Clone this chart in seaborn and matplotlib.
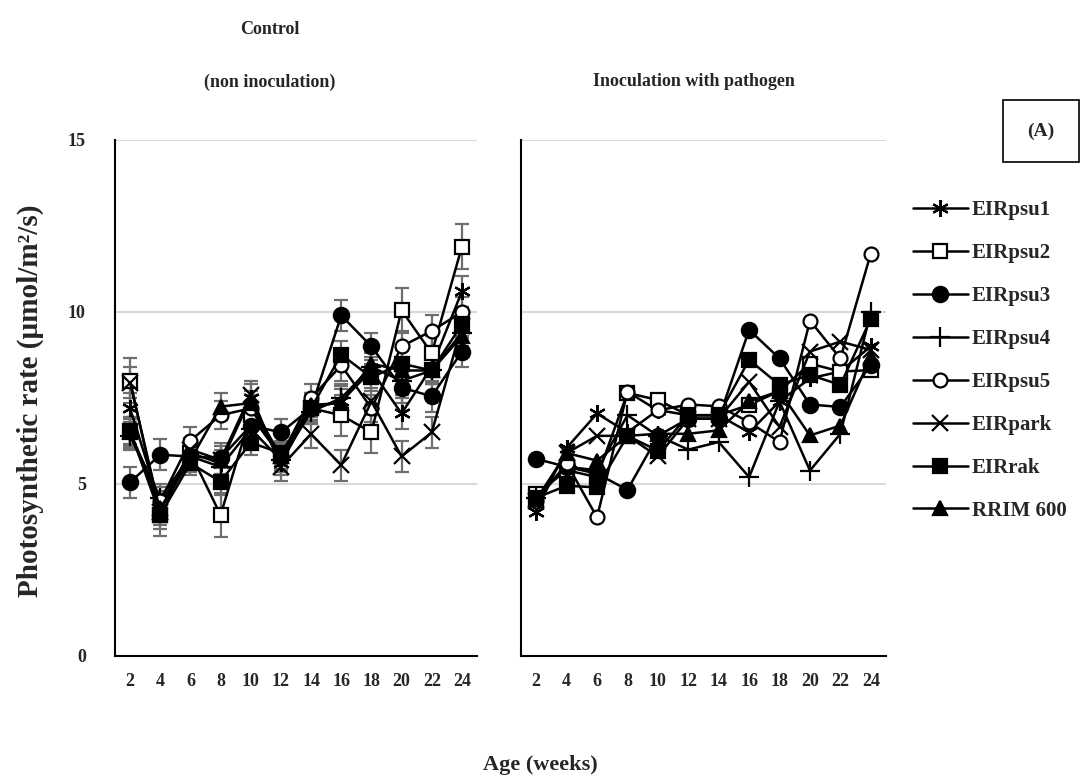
import numpy as np
import pandas as pd
import matplotlib
matplotlib.use("Agg")
import matplotlib.pyplot as plt
from matplotlib.patches import Rectangle
import seaborn as sns

sns.set_theme(style="white")
plt.rcParams['font.family'] = ['Liberation Serif', 'DejaVu Serif']
plt.rcParams['font.weight'] = 'bold'

weeks = ["2", "4", "6", "8", "10", "12", "14", "16", "18", "20", "22", "24"]
series = ["EIRpsu1", "EIRpsu2", "EIRpsu3", "EIRpsu4", "EIRpsu5", "EIRpark", "EIRrak", "RRIM 600"]

# Control (non inoculation)
ctrl_psu1 = [7.2, 4.4, 5.9, 5.6, 7.5, 5.6, 7.2, 7.4, 8.3, 7.05, 8.4, 10.6]
ctrl_psu2 = [8.0, 4.1, 5.9, 4.1, 7.0, 5.8, 7.2, 7.0, 6.5, 10.05, 8.8, 11.9]
ctrl_psu3 = [5.05, 5.85, 5.8, 5.75, 6.7, 6.5, 7.2, 9.9, 9.0, 7.8, 7.55, 8.85]
ctrl_psu4 = [6.4, 4.6, 5.8, 5.5, 6.6, 5.7, 7.1, 7.5, 8.4, 8.0, 8.3, 9.4]
ctrl_psu5 = [6.5, 4.5, 6.26, 7.0, 7.2, 5.8, 7.5, 8.45, 7.2, 9.0, 9.45, 10.0]
ctrl_park = [7.95, 4.2, 6.0, 5.7, 7.6, 5.5, 6.45, 5.55, 7.4, 5.8, 6.5, 9.6]
ctrl_rak = [6.55, 4.1, 5.6, 5.07, 6.2, 5.9, 7.2, 8.76, 8.1, 8.5, 8.3, 9.64]
ctrl_rrim = [6.5, 4.3, 5.7, 7.25, 7.35, 5.8, 7.3, 7.35, 8.5, 8.3, 8.3, 9.3]

# Standard errors (control)
err_psu1 = [0.45, 0.4, 0.35, 0.4, 0.4, 0.35, 0.4, 0.45, 0.4, 0.45, 0.45, 0.45]
err_psu2 = [0.65, 0.6, 0.4, 0.65, 0.4, 0.4, 0.45, 0.6, 0.6, 0.65, 0.5, 0.65]
err_psu3 = [0.45, 0.45, 0.4, 0.45, 0.4, 0.4, 0.4, 0.45, 0.4, 0.45, 0.45, 0.45]
err_psu4 = [0.4, 0.4, 0.35, 0.4, 0.35, 0.35, 0.35, 0.4, 0.4, 0.4, 0.4, 0.4]
err_psu5 = [0.45, 0.4, 0.4, 0.4, 0.4, 0.4, 0.4, 0.45, 0.4, 0.45, 0.45, 0.45]
err_park = [0.45, 0.4, 0.35, 0.4, 0.4, 0.4, 0.4, 0.45, 0.4, 0.45, 0.45, 0.45]
err_rak = [0.4, 0.4, 0.35, 0.4, 0.35, 0.35, 0.35, 0.4, 0.4, 0.4, 0.4, 0.4]
err_rrim = [0.4, 0.4, 0.35, 0.4, 0.35, 0.35, 0.35, 0.4, 0.4, 0.4, 0.4, 0.4]

# Inoculation with pathogen
inoc_psu1 = [4.2, 6.05, 7.05, 6.5, 7.15, 7.0, 7.0, 6.5, 7.4, 8.07, 8.27, 9.0]
inoc_psu2 = [4.7, 5.4, 5.2, 7.65, 7.44, 7.0, 7.0, 7.3, 7.7, 8.5, 8.27, 8.31]
inoc_psu3 = [5.73, 5.5, 5.3, 4.83, 6.4, 6.9, 6.9, 9.48, 8.65, 7.31, 7.24, 8.46]
inoc_psu4 = [4.6, 5.5, 5.4, 7.0, 6.4, 6.0, 6.22, 5.2, 7.4, 5.39, 6.46, 10.0]
inoc_psu5 = [4.5, 5.6, 4.03, 7.68, 7.14, 7.31, 7.26, 6.8, 6.22, 9.75, 8.65, 11.7]
inoc_park = [4.5, 5.9, 6.4, 6.4, 5.8, 6.9, 6.9, 7.97, 6.66, 8.85, 9.14, 8.9]
inoc_rak = [4.6, 4.95, 4.9, 6.4, 5.97, 7.0, 7.0, 8.61, 7.88, 8.17, 7.88, 9.8]
inoc_rrim = [4.55, 5.9, 5.68, 6.4, 6.46, 6.46, 6.56, 7.4, 7.7, 6.41, 6.7, 8.7]

ctrl = [ctrl_psu1, ctrl_psu2, ctrl_psu3, ctrl_psu4, ctrl_psu5, ctrl_park, ctrl_rak, ctrl_rrim]
errs = [err_psu1, err_psu2, err_psu3, err_psu4, err_psu5, err_park, err_rak, err_rrim]
inoc = [inoc_psu1, inoc_psu2, inoc_psu3, inoc_psu4, inoc_psu5, inoc_park, inoc_rak, inoc_rrim]

markers = [(6, 2, 0), "s", "o", "+", "o", "x", "s", "^"]
faces = ["black", "white", "black", "black", "white", "black", "black", "black"]
msizes = [12, 10, 11, 14, 10, 11, 10, 10]

FS = 13
W, H = 1081, 783
fig = plt.figure(figsize=(W / 100, H / 100), dpi=100)
axL = fig.add_axes([115 / W, 1 - 656 / H, 362 / W, 516 / H])
axR = fig.add_axes([521 / W, 1 - 656 / H, 365 / W, 516 / H])


def draw(ax, data, errors=None):
    for i, name in enumerate(series):
        df = pd.DataFrame({"week": weeks, "value": data[i]})
        if errors is not None:
            ax.errorbar(np.arange(len(weeks)), data[i], yerr=errors[i], fmt="none",
                        ecolor="#6e6e6e", elinewidth=1.6, capsize=5, capthick=1.6, zorder=2)
        sns.lineplot(data=df, x="week", y="value", ax=ax, color="black", linewidth=1.8,
                     marker=markers[i], markersize=msizes[i], markerfacecolor=faces[i],
                     markeredgecolor="black", markeredgewidth=1.6, sort=False, zorder=3,
                     label=name)
    ax.set_ylim(0, 15)
    ax.set_xlim(-0.5, 11.5)
    ax.set_yticks([0, 5, 10, 15])
    for y in [5, 10, 15]:
        ax.axhline(y, color="#d9d9d9", linewidth=1.5, zorder=0)
    ax.set_xticks(np.arange(len(weeks)))
    ax.set_xticklabels(weeks, fontsize=FS, fontweight="bold")
    ax.set_xticks(np.arange(-0.5, 12, 1), minor=True)
    ax.tick_params(axis="x", which="major", length=0, pad=12)
    ax.tick_params(axis="x", which="minor", length=7, width=1.5, direction="out", color="black")
    ax.tick_params(axis="y", length=7, width=1.5, direction="out", color="black", pad=14)
    for s in ["top", "right"]:
        ax.spines[s].set_visible(False)
    for s in ["left", "bottom"]:
        ax.spines[s].set_color("black")
        ax.spines[s].set_linewidth(1.5)
    ax.set_xlabel("")
    ax.set_ylabel("")
    ax.grid(False)
    if ax.get_legend() is not None:
        ax.get_legend().remove()


draw(axL, ctrl, errs)
draw(axR, inoc)
axL.set_yticklabels(["0", "5", "10", "15"], fontsize=FS, fontweight="bold")
axR.set_yticklabels([])

handles, labels = axR.get_legend_handles_labels()
fig.legend(handles, labels, loc="upper left", bbox_to_anchor=(905 / W, 1 - 192 / H),
           frameon=False, handlelength=2.6, handletextpad=0.2,
           labelspacing=1.1, borderaxespad=0, prop={"weight": "bold", "size": 15})

fig.text(270 / W, 1 - 30 / H, "Control", ha="center", va="center", fontsize=FS, fontweight="bold")
fig.text(270 / W, 1 - 82 / H, "(non inoculation)", ha="center", va="center", fontsize=FS, fontweight="bold")
fig.text(694 / W, 1 - 82 / H, "Inoculation with pathogen", ha="center", va="center", fontsize=FS, fontweight="bold")
fig.text(30 / W, 1 - 401 / H, "Photosynthetic rate (µmol/m²/s)", rotation=90,
         ha="center", va="center", fontsize=21, fontweight="bold")
fig.text(540 / W, 1 - 765 / H, "Age (weeks)", ha="center", va="center", fontsize=16, fontweight="bold")

fig.patches.append(Rectangle((1003 / W, 1 - 162 / H), 76 / W, 62 / H, transform=fig.transFigure,
                             fill=False, edgecolor="black", linewidth=1.2))
fig.text(1041 / W, 1 - 131 / H, "(A)", ha="center", va="center", fontsize=14, fontweight="bold")

fig.savefig("out.png", dpi=100)
